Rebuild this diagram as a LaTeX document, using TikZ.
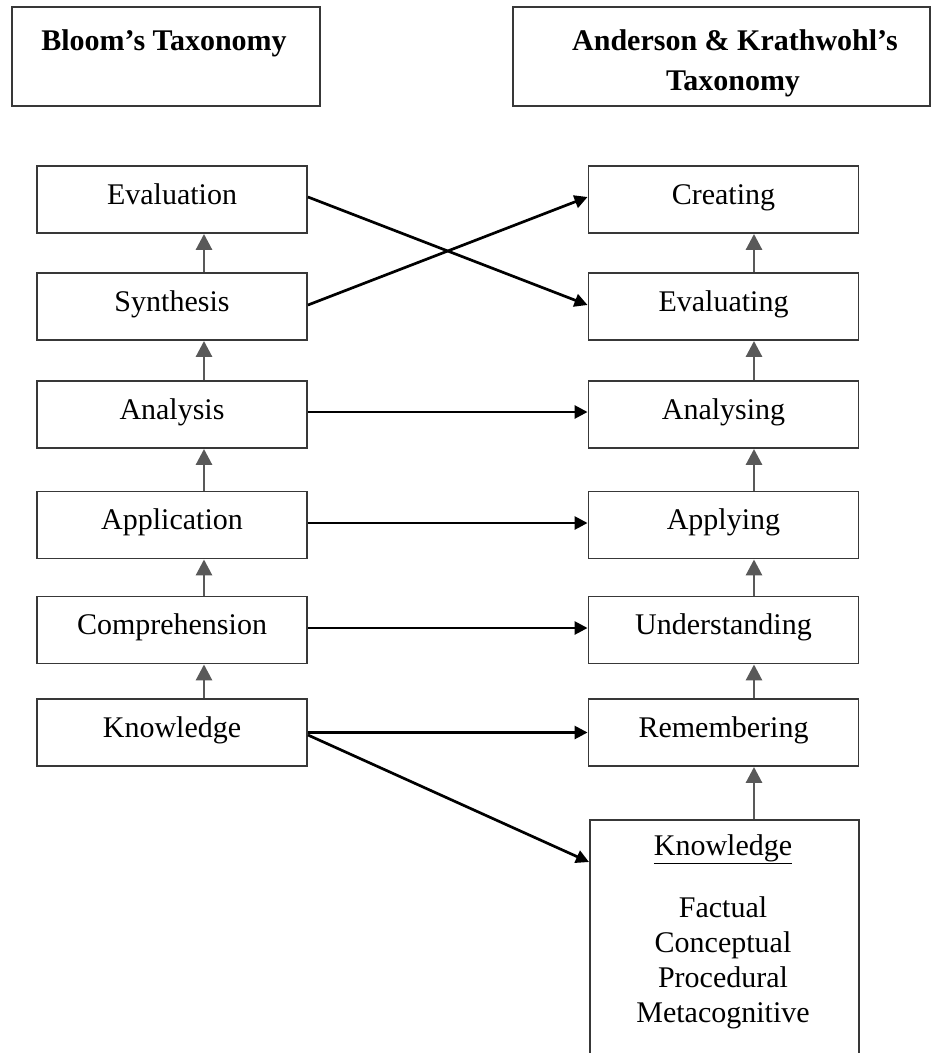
\documentclass[tikz,border=0pt]{standalone}
\usepackage{fontspec}
\setmainfont{Liberation Serif}
\usetikzlibrary{arrows.meta,calc}

\begin{document}
\begin{tikzpicture}[x=1pt,y=-1pt,
  box/.style={draw=black!78,line width=1.9pt,rectangle,inner sep=0pt,
    minimum width=270pt,minimum height=67pt,
    font=\fontsize{30}{36}\selectfont,text height=17pt,text depth=8pt},
  hdrbox/.style={draw=black!78,line width=1.9pt,rectangle,inner sep=0pt},
  hdrtext/.style={font=\fontsize{30}{36}\selectfont\bfseries,inner sep=0pt,anchor=base},
  kbtext/.style={font=\fontsize{30}{36}\selectfont,inner sep=0pt,anchor=base},
  uparrow/.style={draw=black!65,line width=2.9pt,
    -{Triangle[length=16pt,width=16pt]}},
  maparrow/.style={draw=black,line width=2.7pt,
    -{Triangle[length=13pt,width=13pt]}},
]
\clip (0,0) rectangle (942,1053);

% column headers
\node[hdrbox,minimum width=308pt,minimum height=99pt] (bloomhdr) at (166,56.5) {};
\node[hdrtext] (bloomtxt) at (164,50) {Bloom’s Taxonomy};
\node[hdrbox,minimum width=417pt,minimum height=99pt] (akhdr) at (721.5,56.5) {};
\node[hdrtext] (aktxtA) at (735,50) {Anderson \& Krathwohl’s};
\node[hdrtext] (aktxtB) at (733,90) {Taxonomy};

% Bloom's levels (left column)
\node[box] (evaluation)    at (172,199.5) {Evaluation};
\node[box] (synthesis)     at (172,306.5) {Synthesis};
\node[box] (analysis)      at (172,414.5) {Analysis};
\node[box] (application)   at (172,525)   {Application};
\node[box] (comprehension) at (172,630)   {Comprehension};
\node[box] (knowledge)     at (172,732.5) {Knowledge};

% revised levels (right column)
\node[box] (creating)      at (723.5,199.5) {Creating};
\node[box] (evaluating)    at (723.5,306.5) {Evaluating};
\node[box] (analysing)     at (723.5,414.5) {Analysing};
\node[box] (applying)      at (723.5,525)   {Applying};
\node[box] (understanding) at (723.5,630)   {Understanding};
\node[box] (remembering)   at (723.5,732.5) {Remembering};

% knowledge dimension box
\node[hdrbox,minimum width=269pt,minimum height=260pt,anchor=north west] (kdim) at (589,819) {};
\node[kbtext] (kdimtitle) at (723,855) {\underline{Knowledge}};
\node[kbtext] (kfact) at (723,917)  {Factual};
\node[kbtext] (kconc) at (723,952)  {Conceptual};
\node[kbtext] (kproc) at (723,987)  {Procedural};
\node[kbtext] (kmeta) at (723,1022) {Metacognitive};

% upward progression, left column
\draw[uparrow] (knowledge.north -| 204,0)     -- (comprehension.south -| 204,0);
\draw[uparrow] (comprehension.north -| 204,0) -- (application.south -| 204,0);
\draw[uparrow] (application.north -| 204,0)   -- (analysis.south -| 204,0);
\draw[uparrow] (analysis.north -| 204,0)      -- (synthesis.south -| 204,0);
\draw[uparrow] (synthesis.north -| 204,0)     -- (evaluation.south -| 204,0);

% upward progression, right column
\draw[uparrow] (kdim.north -| 754,0)          -- (remembering.south -| 754,0);
\draw[uparrow] (remembering.north -| 754,0)   -- (understanding.south -| 754,0);
\draw[uparrow] (understanding.north -| 754,0) -- (applying.south -| 754,0);
\draw[uparrow] (applying.north -| 754,0)      -- (analysing.south -| 754,0);
\draw[uparrow] (analysing.north -| 754,0)     -- (evaluating.south -| 754,0);
\draw[uparrow] (evaluating.north -| 754,0)    -- (creating.south -| 754,0);

% mapping between the two taxonomies
\draw[maparrow] ([yshift=2.5pt]evaluation.east) -- ([yshift=1.5pt]evaluating.west);
\draw[maparrow] ([yshift=1.5pt]synthesis.east)  -- ([yshift=2.5pt]creating.west);
\draw[maparrow] ([yshift=2.5pt]analysis.east)   -- ([yshift=2.5pt]analysing.west);
\draw[maparrow] ([yshift=2pt]application.east)  -- ([yshift=2pt]applying.west);
\draw[maparrow] ([yshift=2pt]comprehension.east) -- ([yshift=2pt]understanding.west);
\draw[maparrow] (knowledge.east) -- (remembering.west);
\draw[maparrow] ([yshift=-2.5pt]knowledge.east) -- (kdim.north west |- 0,862);
\end{tikzpicture}
\end{document}
